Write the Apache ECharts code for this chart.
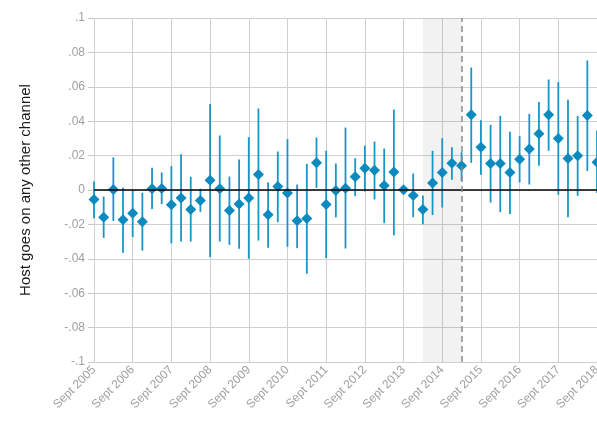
<!DOCTYPE html>
<html>
<head>
<meta charset="utf-8">
<script src="https://cdn.jsdelivr.net/npm/echarts@6/dist/echarts.min.js"></script>
<style>
html, body { margin: 0; padding: 0; background: #fff; }
#chart { width: 597px; height: 423px; }
</style>
</head>
<body>
<div id="chart"></div>
<script>
// quarterly estimates, Sept 2005 .. Sept 2018 (index 0..52)
var yearLabels = ['Sept 2005', 'Sept 2006', 'Sept 2007', 'Sept 2008', 'Sept 2009', 'Sept 2010', 'Sept 2011',
    'Sept 2012', 'Sept 2013', 'Sept 2014', 'Sept 2015', 'Sept 2016', 'Sept 2017', 'Sept 2018'];

var means = [-0.0055, -0.0158, 0.0003, -0.0173, -0.0135, -0.0185, 0.0007, 0.0009, -0.0086, -0.0047,
    -0.0113, -0.0061, 0.0057, 0.0007, -0.0119, -0.0082, -0.0047, 0.009, -0.0144, 0.002,
    -0.0018, -0.0179, -0.0166, 0.0158, -0.0084, -0.0003, 0.001, 0.0077, 0.0127, 0.0115,
    0.0026, 0.0104, 0.0001, -0.0032, -0.0113, 0.004, 0.0102, 0.0156, 0.0141, 0.0437,
    0.0249, 0.0154, 0.0154, 0.0102, 0.0179, 0.0239, 0.0327, 0.0437, 0.03, 0.0183,
    0.0199, 0.0433, 0.0162];

var upper = [0.0049, -0.0038, 0.019, 0.0013, 0, -0.0016, 0.0129, 0.0102, 0.0139, 0.0208,
    0.0077, 0.0007, 0.050, 0.0317, 0.0078, 0.0177, 0.0307, 0.0474, 0.0044, 0.0224,
    0.0296, 0.0032, 0.0152, 0.0305, 0.0228, 0.0154, 0.0363, 0.0185, 0.0258, 0.0282,
    0.0241, 0.0468, 0.002, 0.0096, -0.0032, 0.0228, 0.0301, 0.0249, 0.022, 0.0712,
    0.0406, 0.0379, 0.0431, 0.0338, 0.0313, 0.0443, 0.0511, 0.0642, 0.0627, 0.0524,
    0.0431, 0.0753, 0.0346];

var lower = [-0.0164, -0.0278, -0.018, -0.0365, -0.0274, -0.0352, -0.0111, -0.0082, -0.031, -0.030,
    -0.030, -0.0127, -0.039, -0.030, -0.0319, -0.0342, -0.040, -0.0294, -0.0336, -0.0187,
    -0.033, -0.0338, -0.0487, 0.0013, -0.0396, -0.0159, -0.034, -0.0036, -0.0009, -0.0055,
    -0.0193, -0.0263, -0.002, -0.0158, -0.0199, -0.0146, -0.0102, 0.0059, 0.0053, 0.0158,
    0.0088, -0.0073, -0.0129, -0.0139, 0.0044, 0.0032, 0.0141, 0.0228, -0.0028, -0.0158,
    -0.0034, 0.011, -0.0018];

var shadeFrom = 34, shadeTo = 38; // Mar 2014 .. Mar 2015

var pts = means.map(function (v, i) { return [i, v]; });
var bars = means.map(function (v, i) { return [i, lower[i], upper[i]]; });

var chart = echarts.init(document.getElementById('chart'));
chart.setOption({
    animation: false,
    textStyle: { fontFamily: 'Liberation Sans, Arial, sans-serif' },
    grid: { left: 94, right: 0, top: 18, bottom: 61, outerBoundsMode: 'none', containLabel: false },
    xAxis: {
        type: 'value',
        min: 0,
        max: 52,
        interval: 4,
        axisLine: { show: false },
        axisTick: { show: true, length: 5, lineStyle: { color: '#c8c8c8' } },
        axisLabel: {
            rotate: 45,
            color: '#a0a0a0',
            fontSize: 12,
            margin: 6,
            showMaxLabel: true,
            formatter: function (v) { return yearLabels[Math.round(v / 4)]; }
        },
        splitLine: { show: true, lineStyle: { color: '#d0d0d0', width: 1 } }
    },
    yAxis: {
        type: 'value',
        min: -0.1,
        max: 0.1,
        interval: 0.02,
        name: 'Host goes on any other channel',
        nameLocation: 'middle',
        nameRotate: 90,
        nameGap: 61,
        nameTextStyle: { color: '#1a1a1a', fontSize: 15 },
        axisLine: { show: false },
        axisTick: { show: true, length: 6, lineStyle: { color: '#c8c8c8' } },
        axisLabel: {
            color: '#a0a0a0',
            fontSize: 12,
            margin: 9,
            formatter: function (v) {
                var r = Math.round(v * 100) / 100;
                if (r === 0) return '0';
                return String(r).replace('0.', '.');
            }
        },
        splitLine: { show: true, lineStyle: { color: '#d0d0d0', width: 1 } }
    },
    series: [{
        type: 'custom',
        data: bars,
        z: 3,
        renderItem: function (params, api) {
            var a = api.coord([api.value(0), api.value(1)]);
            var b = api.coord([api.value(0), api.value(2)]);
            return {
                type: 'line',
                shape: { x1: a[0], y1: a[1], x2: b[0], y2: b[1] },
                style: { stroke: '#1996c8', lineWidth: 1.8 }
            };
        },
        markArea: {
            silent: true,
            itemStyle: { color: 'rgba(0,0,0,0.05)' },
            data: [[{ xAxis: shadeFrom }, { xAxis: shadeTo }]]
        },
        markLine: {
            silent: true,
            symbol: 'none',
            label: { show: false },
            data: [
                { yAxis: 0, lineStyle: { color: '#000', width: 1.5, type: 'solid' } },
                { xAxis: shadeTo, lineStyle: { color: '#8c8c8c', width: 1.5, type: [6, 4] } }
            ]
        }
    }, {
        type: 'scatter',
        data: pts,
        z: 4,
        symbol: 'diamond',
        symbolSize: 11,
        itemStyle: { color: '#0a8abf', opacity: 1 }
    }]
});
</script>
</body>
</html>
